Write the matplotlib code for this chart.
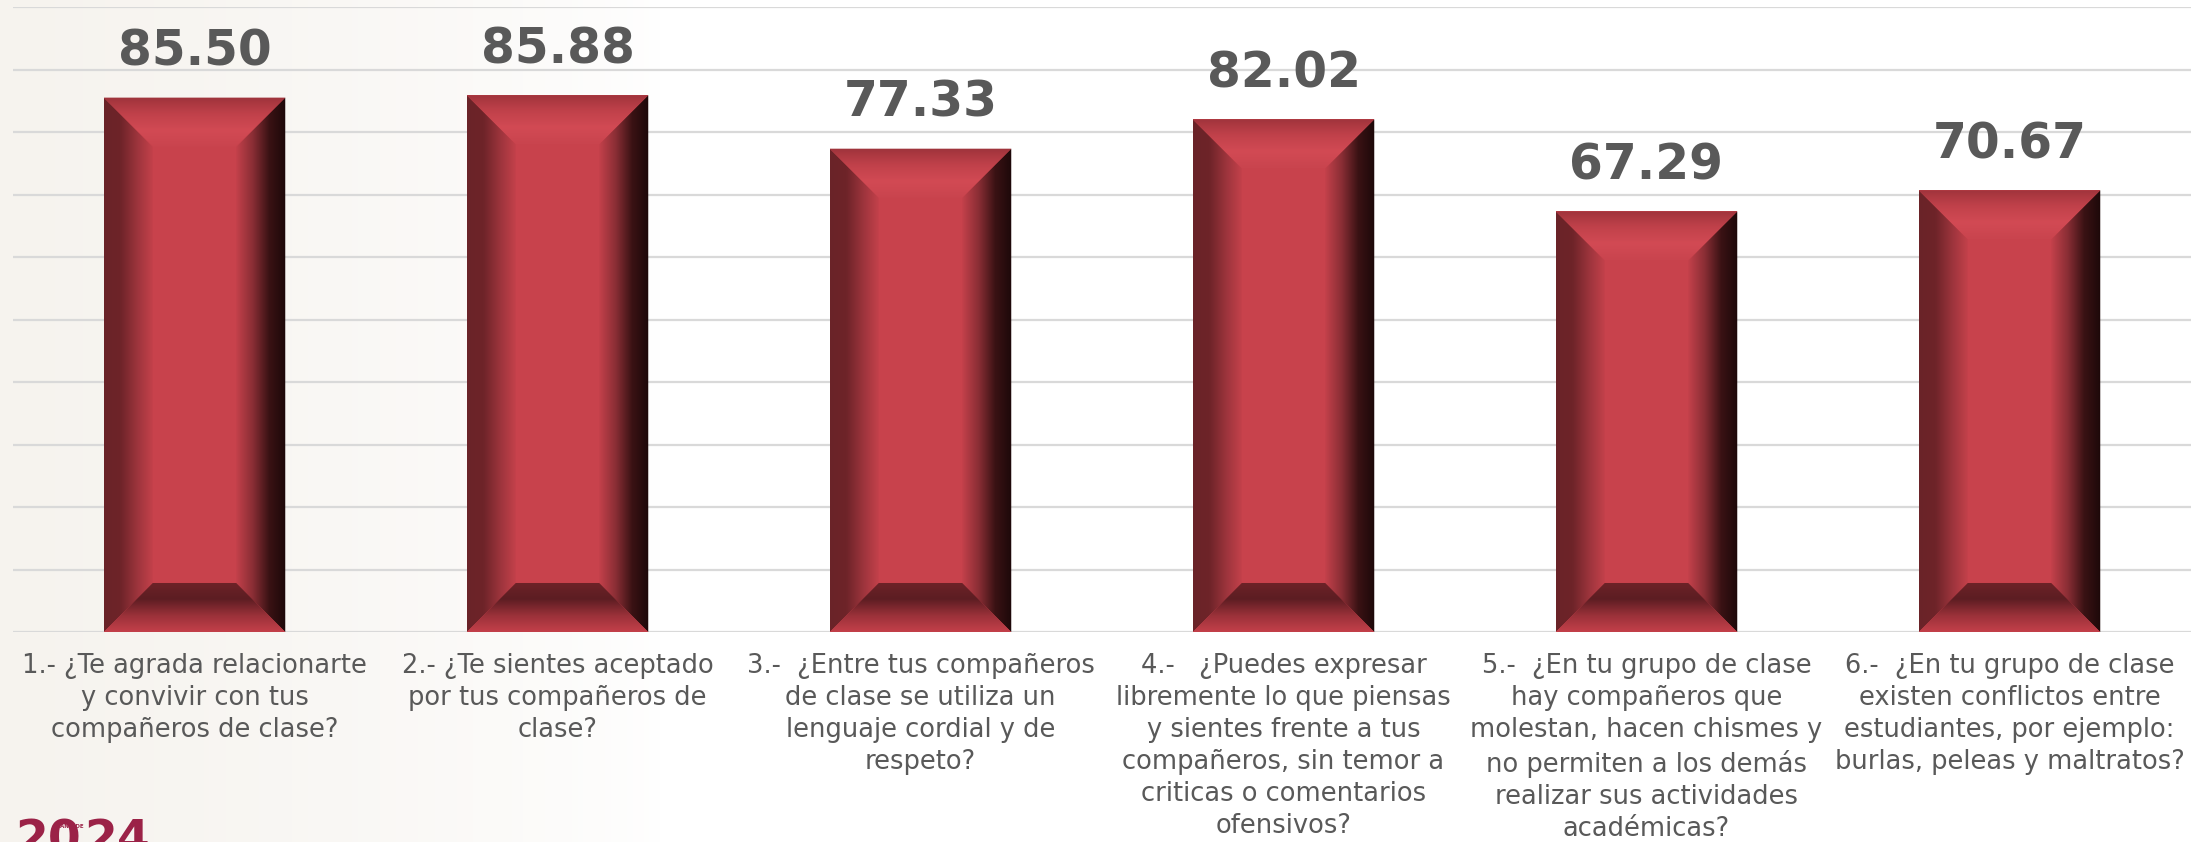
import numpy as np
import matplotlib.pyplot as plt
from matplotlib.colors import LinearSegmentedColormap
from matplotlib.patches import Polygon

# data
labels = [
    "1.- ¿Te agrada relacionarte\ny convivir con tus\ncompañeros de clase?",
    "2.- ¿Te sientes aceptado\npor tus compañeros de\nclase?",
    "3.-  ¿Entre tus compañeros\nde clase se utiliza un\nlenguaje cordial y de\nrespeto?",
    "4.-   ¿Puedes expresar\nlibremente lo que piensas\ny sientes frente a tus\ncompañeros, sin temor a\ncriticas o comentarios\nofensivos?",
    "5.-  ¿En tu grupo de clase\nhay compañeros que\nmolestan, hacen chismes y\nno permiten a los demás\nrealizar sus actividades\nacadémicas?",
    "6.-  ¿En tu grupo de clase\nexisten conflictos entre\nestudiantes, por ejemplo:\nburlas, peleas y maltratos?",
]
values = [85.50, 85.88, 77.33, 82.02, 67.29, 70.67]

W, H = 2201, 842
fig = plt.figure(figsize=(W / 100, H / 100), dpi=100)
fig.patch.set_facecolor('white')

# faint beige template background on the left
bg = fig.add_axes([0, 0, 1, 1], zorder=-10)
bg.axis('off')
fade = np.clip(1 - np.linspace(0, 1, 400) / 0.3, 0, 1)[None, :] ** 0.7
bg_cmap = LinearSegmentedColormap.from_list('bg', ['#ffffff', '#f6f3ee'])
bg.imshow(fade, cmap=bg_cmap, vmin=0, vmax=1, aspect='auto', extent=[0, 1, 0, 1])
bg.set_xlim(0, 1)
bg.set_ylim(0, 1)

ax = fig.add_axes([13 / W, 1 - 632 / H, (2191 - 13) / W, (632 - 7) / H])
ax.patch.set_alpha(0)

x = np.arange(len(values))
bars = ax.bar(x, values, width=0.5, color='#c8424c', zorder=2)

ax.set_xlim(-0.5, len(values) - 0.5)
ax.set_ylim(0, 100)
ax.set_yticks(np.arange(0, 101, 10))
ax.yaxis.grid(True, color='#d9d9d9', linewidth=1.6, zorder=0)
ax.set_axisbelow(True)
for s in ax.spines.values():
    s.set_visible(False)
ax.tick_params(left=False, bottom=False, labelleft=False, labelbottom=False)

# pixel -> data ratio so the bevel is square on screen
p0 = ax.transData.transform((0, 0))
p1 = ax.transData.transform((1, 1))
px_x = p1[0] - p0[0]
px_y = p1[1] - p0[1]

left_cm = LinearSegmentedColormap.from_list('l', ['#6a2328', '#6e2429', '#9c343c', '#c6424c'])
right_cm = LinearSegmentedColormap.from_list('r', ['#c4414b', '#8a2e35', '#3a1214', '#1c0809'])
top_cm = LinearSegmentedColormap.from_list('t', ['#9e333b', '#c0414a', '#d24a54', '#c9444e'])
bot_cm = LinearSegmentedColormap.from_list('b', ['#c4404a', '#9a3139', '#5c1d22', '#6e2328'])


def shade(poly_pts, extent, cmap, horizontal):
    poly = Polygon(poly_pts, closed=True, facecolor='none', edgecolor='none')
    ax.add_patch(poly)
    g = np.linspace(0, 1, 256)
    img = g[None, :] if horizontal else g[:, None]
    im = ax.imshow(img, cmap=cmap, aspect='auto', extent=extent,
                   origin='lower', zorder=3, interpolation='bilinear')
    im.set_clip_path(poly)


for b, v in zip(bars, values):
    x0 = b.get_x()
    w = b.get_width()
    h = b.get_height()
    x1 = x0 + w
    bx = w * 0.27
    by = bx * px_x / px_y
    # left bevel
    shade([(x0, h), (x0 + bx, h - by), (x0 + bx, by), (x0, 0)],
          [x0, x0 + bx, 0, h], left_cm, True)
    # right bevel
    shade([(x1, h), (x1 - bx, h - by), (x1 - bx, by), (x1, 0)],
          [x1 - bx, x1, 0, h], right_cm, True)
    # top bevel
    shade([(x0, h), (x1, h), (x1 - bx, h - by), (x0 + bx, h - by)],
          [x0, x1, h, h - by], top_cm, False)
    # bottom bevel
    shade([(x0, 0), (x1, 0), (x1 - bx, by), (x0 + bx, by)],
          [x0, x1, 0, by], bot_cm, False)

    ax.annotate(f"{v:.2f}", (b.get_x() + w / 2, h), xytext=(0, 23),
                textcoords='offset points', ha='center', va='baseline',
                fontsize=35, fontweight='bold', color='#595959', zorder=5)

ax.set_xlim(-0.5, len(values) - 0.5)
ax.set_ylim(0, 100)

for i, lab in enumerate(labels):
    ax.text(i, -0.034, lab, transform=ax.get_xaxis_transform(), ha='center',
            va='top', fontsize=18.5, color='#595959', linespacing=1.3)

# logo at bottom-left: "20" + small "AÑO DE" + "24"
fig.text(15 / W, 1 - 818 / H, "20", ha='left', va='top', fontsize=34,
         fontweight='bold', color='#9b2247')
fig.text(84 / W, 1 - 818 / H, "24", ha='left', va='top', fontsize=34,
         fontweight='bold', color='#9b2247')
fig.text(84 / W, 1 - 824 / H, "AÑO DE", ha='right', va='top', fontsize=4,
         fontweight='bold', color='#9b2247')

fig.savefig('out.png', dpi=100)
